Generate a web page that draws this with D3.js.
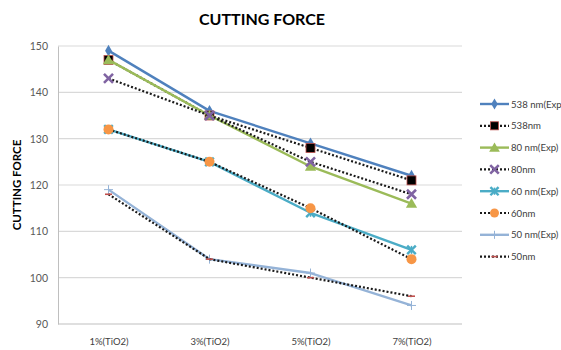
<!DOCTYPE html>
<html>
<head>
<meta charset="utf-8">
<script src="https://cdn.jsdelivr.net/npm/d3@7/dist/d3.min.js"></script>
<style>
  html, body { margin: 0; padding: 0; background: #fff; }
  svg { display: block; font-family: "Open Sans", "Liberation Sans", sans-serif; }
</style>
</head>
<body>
<svg id="chart" width="561" height="350"></svg>
<script>
// Cutting force versus TiO2 content, experiment and model for each particle size
const categories = ["1%(TiO2)", "3%(TiO2)", "5%(TiO2)", "7%(TiO2)"];
const yTicks = [90, 100, 110, 120, 130, 140, 150];

const seriesNames = ["538 nm(Exp", "538nm", "80 nm(Exp)", "80nm", "60 nm(Exp)", "60nm", "50 nm(Exp)", "50nm"];
const exp538 = [149, 136, 129, 122];
const mod538 = [147, 135, 128, 121];
const exp80  = [147, 135, 124, 116];
const mod80  = [143, 135, 125, 118];
const exp60  = [132, 125, 114, 106];
const mod60  = [132, 125, 115, 104];
const exp50  = [119, 104, 101, 94];
const mod50  = [118, 104, 100, 96];
const seriesValues = [exp538, mod538, exp80, mod80, exp60, mod60, exp50, mod50];

// Styling per series: line colour, dotted or solid, marker shape and colours
const styles = [
  { stroke: "#4F81BD", dotted: false, marker: "diamond", fill: "#4F81BD", edge: "#4F81BD" },
  { stroke: "#1a1a1a", dotted: true,  marker: "square",  fill: "#000000", edge: "#C0504D" },
  { stroke: "#9BBB59", dotted: false, marker: "triangle", fill: "#9BBB59", edge: "#9BBB59" },
  { stroke: "#1a1a1a", dotted: true,  marker: "x",       fill: "#8064A2", edge: "#8064A2" },
  { stroke: "#4BACC6", dotted: false, marker: "star",    fill: "#4BACC6", edge: "#4BACC6" },
  { stroke: "#1a1a1a", dotted: true,  marker: "circle",  fill: "#F79646", edge: "#F79646" },
  { stroke: "#95B3D7", dotted: false, marker: "plus",    fill: "#95B3D7", edge: "#95B3D7" },
  { stroke: "#1a1a1a", dotted: true,  marker: "dash",    fill: "#C0504D", edge: "#C0504D" }
];

const svg = d3.select("#chart");
const plot = { left: 58, right: 462, top: 46, bottom: 324 };

const x = d3.scalePoint().domain(categories).range([plot.left, plot.right]).padding(0.5);
const y = d3.scaleLinear().domain([90, 150]).range([plot.bottom, plot.top]);

// Title
svg.append("text")
  .attr("x", 262).attr("y", 25)
  .attr("text-anchor", "middle")
  .attr("font-size", 16).attr("font-weight", "bold")
  .attr("fill", "#000")
  .attr("font-family", "Lato, 'Open Sans', sans-serif")
  .text("CUTTING FORCE");

// Horizontal gridlines
svg.append("g").selectAll("line").data(yTicks.filter(t => t > 90)).join("line")
  .attr("x1", plot.left).attr("x2", plot.right)
  .attr("y1", d => y(d)).attr("y2", d => y(d))
  .attr("stroke", "#D9D9D9").attr("stroke-width", 1.2);

// Y axis
const yAxis = svg.append("g")
  .attr("transform", `translate(${plot.left},0)`)
  .call(d3.axisLeft(y).tickValues(yTicks).tickSize(0).tickPadding(10));
yAxis.select(".domain").attr("stroke", "#BFBFBF");
yAxis.selectAll("text").attr("font-size", 10.5).attr("fill", "#595959")
  .attr("font-family", "Lato, 'Open Sans', sans-serif");

// X axis
const xAxis = svg.append("g")
  .attr("transform", `translate(0,${plot.bottom})`)
  .call(d3.axisBottom(x).tickSize(0).tickPadding(14));
xAxis.select(".domain").attr("stroke", "#BFBFBF").attr("stroke-width", 1.2)
  .attr("d", `M${plot.left},0H${plot.right}`);
xAxis.selectAll("text").attr("font-size", 9.5).attr("fill", "#404040")
  .attr("font-family", "Lato, 'Open Sans', sans-serif");

// Y axis title
svg.append("text")
  .attr("transform", "translate(21,185) rotate(-90)")
  .attr("text-anchor", "middle")
  .attr("font-size", 11.5).attr("font-weight", "bold")
  .attr("font-family", "Lato, 'Open Sans', sans-serif")
  .attr("fill", "#000")
  .text("CUTTING FORCE");

// Marker drawing helper
function drawMarker(g, s, cx, cy, scale = 1) {
  const k = scale;
  switch (s.marker) {
    case "diamond":
      g.append("path").attr("d", d3.symbol(d3.symbolDiamond, 40 * k)())
        .attr("transform", `translate(${cx},${cy})`).attr("fill", s.fill);
      break;
    case "square":
      g.append("rect").attr("x", cx - 4.5 * k).attr("y", cy - 4.5 * k)
        .attr("width", 9 * k).attr("height", 9 * k)
        .attr("fill", s.fill).attr("stroke", s.edge).attr("stroke-width", 0.8);
      break;
    case "triangle":
      g.append("path").attr("d", d3.symbol(d3.symbolTriangle, 55 * k)())
        .attr("transform", `translate(${cx},${cy + 1})`).attr("fill", s.fill);
      break;
    case "x":
      g.append("path").attr("d", d3.symbol(d3.symbolX, 55 * k)())
        .attr("transform", `translate(${cx},${cy})`)
        .attr("fill", "none").attr("stroke", s.fill).attr("stroke-width", 2.6);
      break;
    case "star":
      g.append("path").attr("d", d3.symbol(d3.symbolX, 50 * k)())
        .attr("transform", `translate(${cx},${cy})`)
        .attr("fill", "none").attr("stroke", s.fill).attr("stroke-width", 2.4);
      g.append("line").attr("x1", cx).attr("x2", cx)
        .attr("y1", cy - 4 * k).attr("y2", cy + 4 * k)
        .attr("stroke", s.fill).attr("stroke-width", 1.5);
      break;
    case "circle":
      g.append("circle").attr("cx", cx).attr("cy", cy).attr("r", 5 * k)
        .attr("fill", s.fill);
      break;
    case "plus":
      g.append("line").attr("x1", cx - 4.5 * k).attr("x2", cx + 4.5 * k)
        .attr("y1", cy).attr("y2", cy)
        .attr("stroke", s.fill).attr("stroke-width", 1);
      g.append("line").attr("x1", cx).attr("x2", cx)
        .attr("y1", cy - 4.5 * k).attr("y2", cy + 4.5 * k)
        .attr("stroke", s.fill).attr("stroke-width", 1);
      break;
    case "dash":
      g.append("line").attr("x1", cx - 3.5 * k).attr("x2", cx + 3.5 * k)
        .attr("y1", cy).attr("y2", cy)
        .attr("stroke", s.fill).attr("stroke-width", 1.6);
      break;
  }
}

// Series lines and markers
const line = d3.line().x((d, i) => x(categories[i])).y(d => y(d));
const seriesLayer = svg.append("g");
seriesValues.forEach((vals, si) => {
  const s = styles[si];
  const g = seriesLayer.append("g");
  g.append("path").datum(vals)
    .attr("d", line)
    .attr("fill", "none")
    .attr("stroke", s.stroke)
    .attr("stroke-width", s.dotted ? 2.2 : 2.4)
    .attr("stroke-dasharray", s.dotted ? "2,2" : null)
    .attr("stroke-linejoin", "round");
  vals.forEach((v, i) => drawMarker(g, s, x(categories[i]), y(v)));
});

// Legend
const legend = svg.append("g");
seriesNames.forEach((name, i) => {
  const s = styles[i];
  const ly = 104 + i * 21.8;
  const g = legend.append("g");
  g.append("line").attr("x1", 480).attr("x2", 509).attr("y1", ly).attr("y2", ly)
    .attr("stroke", s.stroke)
    .attr("stroke-width", s.dotted ? 2.2 : 2.4)
    .attr("stroke-dasharray", s.dotted ? "2,2" : null);
  drawMarker(g, s, 494.5, ly, 0.9);
  g.append("text").attr("x", 511).attr("y", ly + 3.5)
    .attr("font-size", 9.6).attr("fill", "#404040")
    .attr("font-family", "Lato, 'Open Sans', sans-serif")
    .text(name);
});
</script>
</body>
</html>
